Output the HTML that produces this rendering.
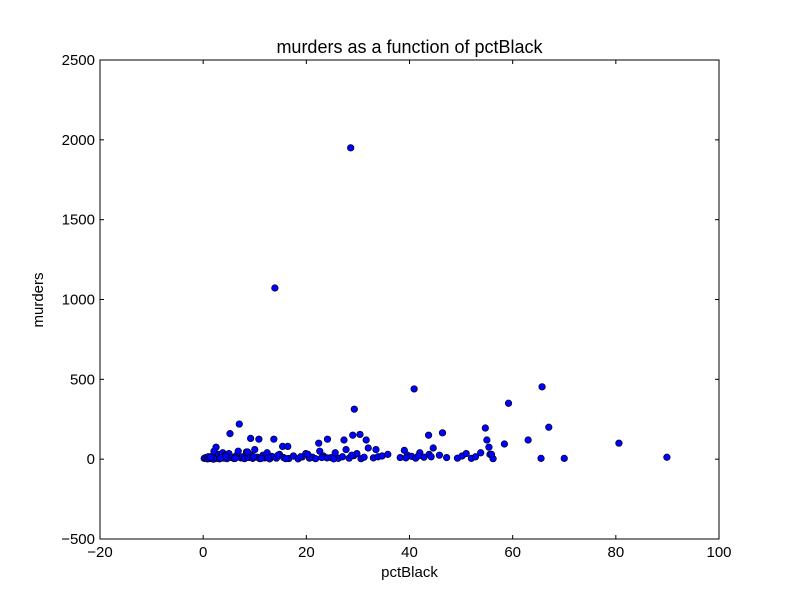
<!DOCTYPE html>
<html><head><meta charset="utf-8"><style>
body{margin:0;background:#fff;}
svg{display:block;font-family:"Liberation Sans","DejaVu Sans",sans-serif;}
</style></head><body>
<svg id="chart" width="800" height="600">
<rect width="800" height="600" fill="#fff"/>
<g id="plot"></g>
</svg>
<script>
const xTicks=[-20,0,20,40,60,80,100];
const yTicks=[-500,0,500,1000,1500,2000,2500];
const pctBlack=[28.6,13.9,40.9,65.7,29.3,59.2,7.0,67.0,54.7,80.6,
89.9,70.0,65.5,63.0,58.4,55.0,55.4,46.4,43.7,5.2,
9.2,10.8,13.7,24.1,27.3,29.0,30.4,31.6,22.4,15.4,
16.4,2.5,
0.2,0.5,0.8,1.0,1.2,1.5,1.8,2.0,2.3,2.7,
3.0,3.2,3.5,3.8,4.0,4.3,4.6,5.0,5.5,6.0,
6.4,6.8,7.3,7.7,8.0,8.4,8.8,9.1,9.6,10.0,
10.5,11.0,11.6,12.0,12.4,12.9,13.3,14.2,14.8,15.6,
16.6,17.5,18.4,19.2,19.9,20.6,21.2,21.8,22.6,23.3,
24.0,24.8,25.6,26.2,27.0,27.7,28.3,29.2,29.8,30.6,
31.2,32.0,33.0,33.9,34.7,35.8,38.2,39.0,39.6,40.4,
41.2,42.0,42.8,43.8,44.6,45.8,47.2,49.3,50.2,51.0,
52.0,52.8,53.8,55.6,56.2,1.4,2.1,3.4,4.4,6.2,
8.6,9.8,11.3,12.6,14.5,16.0,18.9,20.3,23.0,25.3,
28.8,33.5,39.3,41.7,44.2,55.9];
const murders=[1950,1072,440,453,313,350,220,200,195,100,
12,5,5,120,95,120,75,165,150,160,
130,125,125,125,120,150,155,120,100,80,
80,75,
5,10,2,15,3,8,20,0,12,5,
30,2,18,40,6,25,3,35,10,4,
22,50,8,15,3,45,10,28,5,60,
12,3,25,8,40,2,18,6,30,10,
4,20,2,14,35,6,12,3,50,20,
8,10,40,5,15,60,6,22,35,3,
12,70,8,15,20,30,10,55,25,18,
6,40,12,30,70,25,10,6,20,35,
5,15,40,30,3,12,50,8,20,5,
45,15,5,10,25,3,15,30,10,2,
25,60,8,20,15,30];
const L=100,R=719,T=60,B=539;
const sx=v=>L+(v+20)/120*(R-L);
const sy=v=>B-(v+500)/3000*(B-T);
const NS="http://www.w3.org/2000/svg";
const g=document.getElementById('plot');
function mk(t,a,p){const e=document.createElementNS(NS,t);for(const k in a)e.setAttribute(k,a[k]);(p||g).appendChild(e);return e;}
const pts=mk('g',{});


const n=Math.min(pctBlack.length,murders.length);
for(let i=0;i<n;i++){
 const c=mk('circle',{cx:sx(pctBlack[i]),cy:sy(murders[i]),r:3.3,fill:'#0000ff',stroke:'#000','stroke-width':0.6},pts);
 
 
}
const fr=mk('rect',{x:L,y:T,width:R-L,height:B-T,fill:'none',stroke:'#000','stroke-width':1});


xTicks.forEach(v=>{const x=sx(v);
 mk('line',{x1:x,x2:x,y1:B,y2:B-4,stroke:'#000'});mk('line',{x1:x,x2:x,y1:T,y2:T+4,stroke:'#000'});
 const t=mk('text',{x:x,y:B+18,'text-anchor':'middle','font-size':15});t.textContent=v<0?'\u2212'+(-v):v;
 
 
});
yTicks.forEach(v=>{const y=sy(v);
 mk('line',{x1:L,x2:L+4,y1:y,y2:y,stroke:'#000'});mk('line',{x1:R,x2:R-4,y1:y,y2:y,stroke:'#000'});
 const t=mk('text',{x:L-5,y:y+5,'text-anchor':'end','font-size':15});t.textContent=v<0?'\u2212'+(-v):v;
 
 
});
const ti=mk('text',{x:(L+R)/2,y:53,'text-anchor':'middle','font-size':18});ti.textContent='murders as a function of pctBlack';


const xl=mk('text',{x:(L+R)/2,y:577,'text-anchor':'middle','font-size':15});xl.textContent='pctBlack';


const yl=mk('text',{x:43,y:300,'text-anchor':'middle','font-size':15,transform:'rotate(-90 43 300)'});yl.textContent='murders';


</script>
</body></html>
